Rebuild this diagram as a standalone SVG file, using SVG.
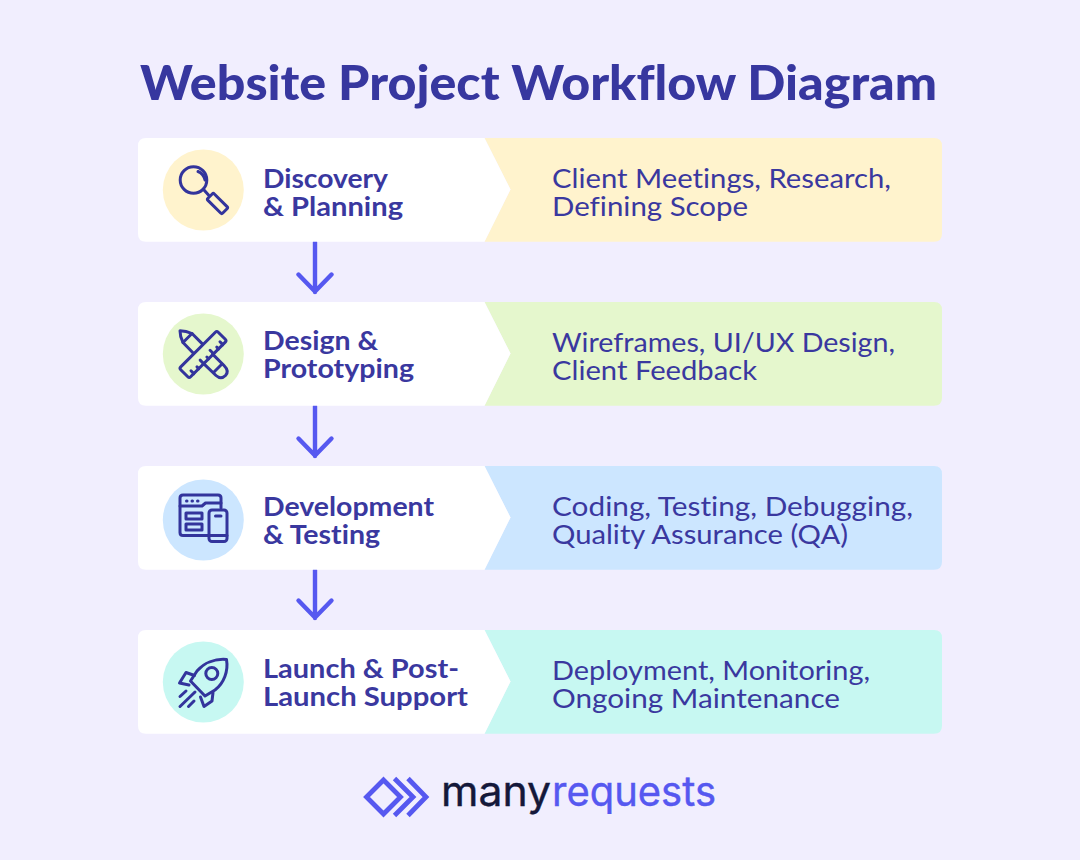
<svg xmlns="http://www.w3.org/2000/svg" width="1080" height="860" viewBox="0 0 1080 860">
<style>
text{font-family:"Lato","Liberation Sans",sans-serif;font-variant-ligatures:none}
.title{font-size:47px;font-weight:900;fill:#37379f}
.h{font-size:26.5px;font-weight:700;fill:#3a389f}
.b{font-size:26.5px;font-weight:400;fill:#3a389f}
.ic{fill:none;stroke:#33349c;stroke-width:3;stroke-linecap:round;stroke-linejoin:round}
.arrow{fill:none;stroke:#5658f0;stroke-width:4.4;stroke-linecap:round;stroke-linejoin:round}
.lm{fill:none;stroke:#5658f0;stroke-width:4.800;stroke-linecap:butt;stroke-linejoin:miter}
.logo{font-family:"Inter","Liberation Sans",sans-serif;font-size:41px;font-weight:400}
</style>
<defs>
<path id="white" d="M146 0H484.500L510.500 51.500L484.500 103.700H146Q138 103.700 138 95.700V8Q138 0 146 0Z" fill="#fff"/>
<path id="band" d="M484.500 0H934Q942 0 942 8V95.700Q942 103.700 934 103.700H484.500L510.500 51.500Z"/>
</defs>
<rect width="1080" height="860" fill="#f1eefe"/>
<text id="title" class="title" x="140" y="100" textLength="797" lengthAdjust="spacingAndGlyphs">Website Project Workflow Diagram</text>

<g id="connectors">
<path class="arrow" d="M315 242V292M298.500 274.500L315 291.500L331.500 274.500"/>
<path class="arrow" d="M315 406V456M298.500 438.500L315 455.500L331.500 438.500"/>
<path class="arrow" d="M315 570V618M298.500 600.500L315 617.500L331.500 600.500"/>
</g>

<g id="node-discovery">
<use href="#band" y="138" fill="#fff3cd"/><use href="#white" y="138"/>
<circle cx="203.300" cy="190" r="40.500" fill="#fff3cd"/>
<g class="ic">
<circle cx="193.500" cy="180" r="13.300"/>
<path d="M198 171.500Q203.500 173.500 205 180"/>
<path d="M204 190L208.500 195"/>
<rect x="-10.500" y="-4.500" width="21" height="9" rx="1.500" transform="translate(217.500 203.500) rotate(45)"/>
</g>
<text class="h" x="263" y="187.500" textLength="125" lengthAdjust="spacingAndGlyphs">Discovery</text>
<text class="h" x="263" y="215.500" textLength="140" lengthAdjust="spacingAndGlyphs">&amp; Planning</text>
<text class="b" x="552" y="187.500" textLength="339" lengthAdjust="spacingAndGlyphs">Client Meetings, Research,</text>
<text class="b" x="552" y="215.500" textLength="196" lengthAdjust="spacingAndGlyphs">Defining Scope</text>
</g>

<g id="node-design">
<use href="#band" y="302" fill="#e5f7cd"/><use href="#white" y="302"/>
<circle cx="203.300" cy="354" r="40.500" fill="#e5f7cd"/>
<g class="ic">
<path d="M202.600 344.100L192 333.500Q186 330.700 180 330.700Q180 337 183 342.500L193.400 353.300"/>
<path d="M192 333.500L183 342.500"/>
<path d="M212.600 354.100L224 365.500Q229.500 371 225.500 375.500Q221 380 216 375.500L203.400 363.300"/>
<path d="M214 372L222 364"/>
<g transform="translate(203 354.500) rotate(-45)">
<rect x="-26.500" y="-7" width="53" height="14" rx="2"/>
<path d="M-20 7V3M-13 7V4.500M-6 7V2M1 7V4.500M8 7V2M15 7V4.500M21 7V3"/>
</g>
</g>
<text class="h" x="263" y="349.500" textLength="115" lengthAdjust="spacingAndGlyphs">Design &amp;</text>
<text class="h" x="263" y="377.500" textLength="151" lengthAdjust="spacingAndGlyphs">Prototyping</text>
<text class="b" x="552" y="351.500" textLength="343" lengthAdjust="spacingAndGlyphs">Wireframes, UI/UX Design,</text>
<text class="b" x="552" y="379.500" textLength="205" lengthAdjust="spacingAndGlyphs">Client Feedback</text>
</g>

<g id="node-development">
<use href="#band" y="466" fill="#cce6ff"/><use href="#white" y="466"/>
<circle cx="203.300" cy="520" r="40.500" fill="#cce6ff"/>
<g class="ic">
<path d="M209 535.500H183Q180 535.500 180 532.500V498Q180 495 183 495H218Q221 495 221 498V508"/>
<path d="M180 506H202L205.500 503H221"/>
<path d="M186.500 501H187M192 501H192.500M197.500 501H198"/>
<rect x="186" y="513" width="16" height="6"/>
<rect x="186" y="524" width="16" height="6"/>
<rect x="209" y="510" width="18" height="31.500" rx="3"/>
<path d="M209 535.500H227M215.500 516H221"/>
</g>
<text class="h" x="263" y="515.500" textLength="171" lengthAdjust="spacingAndGlyphs">Development</text>
<text class="h" x="263" y="543.500" textLength="117" lengthAdjust="spacingAndGlyphs">&amp; Testing</text>
<text class="b" x="552" y="515.500" textLength="361" lengthAdjust="spacingAndGlyphs">Coding, Testing, Debugging,</text>
<text class="b" x="552" y="543.500" textLength="296" lengthAdjust="spacingAndGlyphs">Quality Assurance (QA)</text>
</g>

<g id="node-launch">
<use href="#band" y="630" fill="#c7f8f2"/><use href="#white" y="630"/>
<circle cx="203.300" cy="682" r="40.500" fill="#c7f8f2"/>
<g class="ic">
<path d="M226.500 659.500C215 658.500 204 663 197 671L190.500 681L205 696L215 690C224 683 228.500 671 226.500 659.500Z"/>
<circle cx="211.800" cy="673.500" r="6"/>
<path d="M194.500 675.500L186 672.500L179.500 683L189 685"/>
<path d="M213 692.500L212 701L204 706.500L200.500 697"/>
<path d="M180 696.500L186 691M180 706.500L195 692M188.500 706.500L194 701"/>
</g>
<text class="h" x="263" y="677.500" textLength="196" lengthAdjust="spacingAndGlyphs">Launch &amp; Post-</text>
<text class="h" x="263" y="705.500" textLength="205" lengthAdjust="spacingAndGlyphs">Launch Support</text>
<text class="b" x="552" y="679.500" textLength="318" lengthAdjust="spacingAndGlyphs">Deployment, Monitoring,</text>
<text class="b" x="552" y="707.500" textLength="288" lengthAdjust="spacingAndGlyphs">Ongoing Maintenance</text>
</g>

<g id="logo">
<path class="lm" d="M383.500 780L400.500 797L383.500 814L366.500 797Z"/>
<path class="lm" d="M394.500 778.500L413 797L394.500 815.500"/>
<path class="lm" d="M408 778.500L426 797L408 815.500"/>
<text class="logo" x="441" y="806" fill="#14183a" stroke="#14183a" stroke-width="0.400" textLength="110" lengthAdjust="spacingAndGlyphs">many</text>
<text class="logo" x="552" y="806" fill="#5658f0" stroke="#5658f0" stroke-width="0.400" textLength="164" lengthAdjust="spacingAndGlyphs">requests</text>
</g>
</svg>
